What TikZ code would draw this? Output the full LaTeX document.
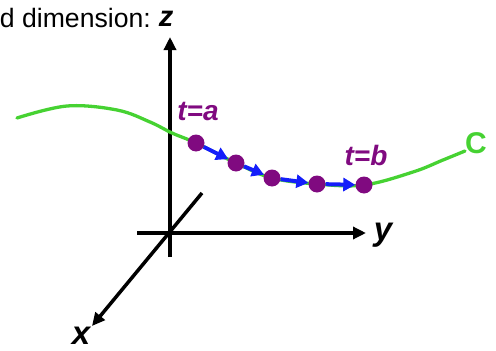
\documentclass[tikz,border=0pt]{standalone}
\usepackage{fontspec}
\setmainfont{Liberation Sans}
\usetikzlibrary{arrows.meta}
\definecolor{cgreen}{RGB}{70,210,50}
\definecolor{cpurple}{RGB}{128,10,128}
\definecolor{cblue}{RGB}{20,30,250}
\begin{document}
\begin{tikzpicture}[x=1pt,y=-1pt,
  axis/.style={line width=3.5pt,-{Triangle[length=13pt,width=12pt]}},
  axlabel/.style={font=\fontsize{33}{33}\selectfont\bfseries\itshape,inner sep=0pt,anchor=base},
  dot/.style={circle,fill=cpurple,minimum size=17pt,inner sep=0pt},
  barrow/.style={cblue,line width=4pt,-{Triangle[length=12pt,width=13pt]}},
  tlabel/.style={cpurple,font=\fontsize{28}{28}\selectfont\bfseries\itshape,inner sep=0pt,anchor=base},
  curve/.style={cgreen,line width=3.3pt,line cap=round}]
\useasboundingbox (0,0) rectangle (496,351);
% axes
\coordinate (zb) at (170,257); \coordinate (zt) at (170,37);
\coordinate (yb) at (137,233); \coordinate (yt) at (366,233);
\coordinate (xb) at (202,193); \coordinate (xt) at (92,326);
\draw[axis] (zb) -- (zt);
\draw[axis] (yb) -- (yt);
\draw[axis] (xb) -- (xt);
\node[axlabel,font=\fontsize{29}{29}\selectfont\bfseries\itshape] (zl) at (166,26) {z};
\node[axlabel] (yl) at (383,240) {y};
\node[axlabel] (xl) at (81,344) {x};
\node[font=\fontsize{26.6}{27}\selectfont,inner sep=0pt,anchor=base east] (title) at (151,27) {d dimension:};
% curve
\coordinate (p1) at (196,143);
\coordinate (p2) at (236,163);
\coordinate (p3) at (272,178);
\coordinate (p4) at (317,184);
\coordinate (p5) at (364,185);
\draw[curve] plot[smooth,tension=0.6] coordinates {(17,118) (67,106) (117,110) (150,122) (172,133) (p1) (p2) (p3) (p4) (p5) (413,172) (443,160) (465,151)};
\node[cgreen,font=\fontsize{30}{30}\selectfont\bfseries,inner sep=0pt,anchor=base] (C) at (476,153) {C};
% points
\node[dot] (d1) at (p1) {};
\node[dot] (d2) at (p2) {};
\node[dot] (d3) at (p3) {};
\node[dot] (d4) at (p4) {};
\node[dot] (d5) at (p5) {};
\draw[barrow] (d1) -- (d2);
\draw[barrow] (d2) -- (d3);
\draw[barrow] (d3) -- (d4);
\draw[barrow] (d4) -- (d5);
\node[tlabel] (ta) at (198,120) {t=a};
\node[tlabel] (tb) at (366,165) {t=b};
\end{tikzpicture}
\end{document}
